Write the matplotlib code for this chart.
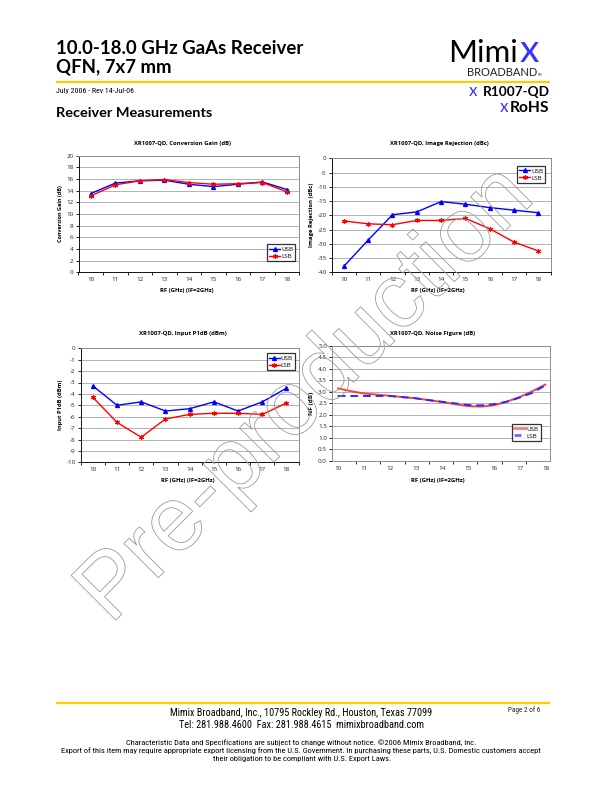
import numpy as np
import matplotlib
matplotlib.use("Agg")
import matplotlib.pyplot as plt
from matplotlib import font_manager, patheffects
from matplotlib.lines import Line2D

plt.rcParams["axes.unicode_minus"] = False

# ---------------- data ----------------
rf_ghz = [10, 11, 12, 13, 14, 15, 16, 17, 18]
gain_usb = [13.5, 15.3, 15.7, 15.8, 15.1, 14.7, 15.1, 15.5, 14.2]
gain_lsb = [13.1, 15.0, 15.7, 15.9, 15.4, 15.1, 15.2, 15.4, 13.8]
rej_usb = [-37.9, -28.7, -19.8, -18.8, -15.2, -16.1, -17.3, -18.2, -19.1]
rej_lsb = [-22.0, -23.0, -23.3, -21.8, -21.8, -21.1, -24.7, -29.4, -32.5]
p1db_usb = [-3.3, -5.0, -4.7, -5.5, -5.3, -4.7, -5.5, -4.7, -3.5]
p1db_lsb = [-4.3, -6.5, -7.8, -6.2, -5.8, -5.7, -5.7, -5.8, -4.8]
nf_freq = [10.0, 10.5, 11.0, 11.5, 12.0, 12.5, 13.0, 13.5, 14.0,
           14.5, 15.0, 15.5, 16.0, 16.5, 17.0, 17.5, 18.0]
nf_usb = [3.15, 3.03, 2.93, 2.88, 2.83, 2.77, 2.72, 2.64, 2.56,
          2.47, 2.38, 2.36, 2.41, 2.57, 2.77, 3.03, 3.32]
nf_lsb = [2.82, 2.82, 2.82, 2.82, 2.82, 2.77, 2.72, 2.64, 2.57,
          2.50, 2.43, 2.41, 2.46, 2.57, 2.75, 2.96, 3.29]
series_names = ["USB", "LSB"]

# ---------------- fonts ----------------
names = {f.name for f in font_manager.fontManager.ttflist}
def pick(*cands):
    for c in cands:
        if c in names:
            return c
    return "DejaVu Sans"
HEAD = pick("Lato", "Open Sans", "Liberation Sans")
BODY = pick("Open Sans", "Liberation Sans")
COND = pick("Liberation Sans Narrow", "Roboto Condensed", "Open Sans Condensed", "Open Sans")
WM = pick("Liberation Sans", "DejaVu Sans")

W, H = 612.0, 792.0
fig = plt.figure(figsize=(W / 100, H / 100), dpi=100)
fig.patch.set_facecolor("white")
renderer = fig.canvas.get_renderer()


def ftext(x, y, s, width=None, size=6.0, ha="left", va="baseline", vertical=False, **kw):
    t = fig.text(x / W, 1 - y / H, s, ha=ha, va=va, fontsize=size, **kw)
    if width:
        bb = t.get_window_extent(renderer=renderer)
        cur = bb.height if vertical else bb.width
        t.set_fontsize(size * width / cur)
    return t


def hline(x0, x1, y, color="#FFCC00", lw=1.6):
    fig.add_artist(Line2D([x0 / W, x1 / W], [1 - y / H, 1 - y / H], color=color,
                          lw=lw, transform=fig.transFigure, solid_capstyle="butt"))


# ---------------- header ----------------
t1 = ftext(56, 54, "10.0-18.0 GHz GaAs Receiver", width=246, size=12,
           family=HEAD, fontweight="bold", color="black")
ftext(56, 72.3, "QFN, 7x7 mm", size=t1.get_fontsize(), family=HEAD,
      fontweight="bold", color="black")
ftext(56, 93.5, "July 2006 - Rev 14-Jul-06", width=79, size=5, family=COND, color="black")
ftext(56, 117.3, "Receiver Measurements", width=155.7, size=9, family=HEAD,
      fontweight="bold", color="black")
hline(56, 550, 81.7)

# logo
ftext(448.3, 61.7, "Mimi", width=70, size=20, family=HEAD, fontweight="normal", color="black")
ftext(520, 61.7, "x", width=19.5, size=20, family=HEAD, fontweight="normal", color="#3434ff")
ftext(466.7, 75.7, "BROADBAND", width=71, size=7, family=HEAD, fontweight="normal", color="#222222")
ftext(538.2, 75.7, "TM", width=4.5, size=3, family=HEAD, color="#222222")
ftext(469, 95.7, "x", width=8.5, size=8, family=HEAD, fontweight="normal", color="#3434ff")
ftext(482.7, 95.7, "R1007-QD", width=66.6, size=8, family=HEAD, fontweight="bold", color="black")
ftext(500, 111.7, "x", width=8.5, size=8, family=HEAD, fontweight="normal", color="#3434ff")
ftext(509.3, 111.7, "RoHS", width=39.7, size=8, family=HEAD, fontweight="bold", color="black")

# ---------------- charts ----------------
BLUE = "#0000ff"
RED = "#ff0000"
STAR = (6, 2, 0)


def make_ax(l, r, t, b):
    return fig.add_axes([l / W, 1 - b / H, (r - l) / W, (b - t) / H])


def style(ax, ylim, yticks, fmt=None):
    ax.set_ylim(*ylim)
    ax.set_yticks(yticks)
    if fmt:
        ax.set_yticklabels([fmt % v for v in yticks])
    ax.grid(axis="y", which="major", color="#a6a6a6", lw=0.6)
    ax.grid(axis="x", visible=False)
    ax.set_axisbelow(True)
    for s in ["top", "right"]:
        ax.spines[s].set_color("#8c8c8c")
        ax.spines[s].set_linewidth(0.7)
    for s in ["left", "bottom"]:
        ax.spines[s].set_color("#111111")
        ax.spines[s].set_linewidth(0.7)
    ax.tick_params(axis="y", length=2.2, width=0.6, pad=1.4, labelsize=4.5,
                   labelcolor="#222222", direction="out")
    ax.tick_params(axis="x", which="major", length=0, pad=3.6, labelsize=4.5,
                   labelcolor="#222222")
    ax.tick_params(axis="x", which="minor", length=2.2, width=0.6, direction="out")
    for lab in ax.get_xticklabels() + ax.get_yticklabels():
        lab.set_family(BODY)


def cat_x(ax):
    ax.set_xlim(9.5, 18.5)
    ax.set_xticks(rf_ghz)
    ax.set_xticks(np.arange(9.5, 18.6, 1.0), minor=True)


def legend(ax, x, y, handles):
    leg = ax.legend(handles=handles, labels=series_names, loc="upper left",
                    bbox_to_anchor=(x / W, 1 - y / H), bbox_transform=fig.transFigure,
                    fontsize=4.5, frameon=True, fancybox=False, borderpad=0.35,
                    handlelength=1.7, handletextpad=0.2, labelspacing=0.25,
                    borderaxespad=0, prop={"family": BODY, "size": 4.5})
    leg.get_frame().set_edgecolor("black")
    leg.get_frame().set_linewidth(0.9)
    leg.set_zorder(5)
    return leg


def mk_handles():
    return [Line2D([], [], color=BLUE, lw=1.0, marker="^", ms=2.8),
            Line2D([], [], color=RED, lw=1.0, marker=STAR, ms=3.5, mew=0.8)]


def plot_pair(ax, usb, lsb):
    ax.plot(rf_ghz, usb, color=BLUE, lw=1.0, marker="^", ms=2.8, zorder=3)
    ax.plot(rf_ghz, lsb, color=RED, lw=1.0, marker=STAR, ms=3.5, mew=0.8, zorder=3)


def labels(cx, title_y, title, tw, xl_y, xw, yl_x, yl_y, ylab, yw):
    ftext(cx, title_y, title, width=tw, size=5, ha="center", va="center",
          family=BODY, fontweight="bold", color="black")
    ftext(xw[0], xl_y, "RF (GHz) (IF=2GHz)", width=xw[1], size=5, ha="center",
          va="center", family=BODY, fontweight="bold", color="black")
    ftext(yl_x, yl_y, ylab, width=yw, size=5, ha="center", va="center",
          rotation=90, vertical=True, family=BODY, fontweight="bold", color="black")


# Chart 1: Conversion gain
ax1 = make_ax(78.5, 299.2, 155.7, 272.3)
cat_x(ax1)
plot_pair(ax1, gain_usb, gain_lsb)
style(ax1, (0, 20), np.arange(0, 21, 2))
legend(ax1, 267, 244.3, mk_handles())
labels(182.7, 143.3, "XR1007-QD, Conversion Gain (dB)", 96.7,
       290.3, (186.7, 54.7), 60.7, 214.0, "Conversion Gain (dB)", 58.3)

# Chart 2: Image rejection
ax2 = make_ax(331.7, 550.5, 158.3, 272.3)
cat_x(ax2)
plot_pair(ax2, rej_usb, rej_lsb)
style(ax2, (-40, 0), np.arange(-40, 1, 5))
legend(ax2, 517, 166, mk_handles())
labels(439.3, 143.3, "XR1007-QD, Image Rejection (dBc)", 100,
       290.7, (438.3, 54.7), 311.7, 215.3, "Image Rejection (dBc)", 65)

# Chart 3: Input P1dB
ax3 = make_ax(80.7, 298.6, 348.3, 462.3)
cat_x(ax3)
plot_pair(ax3, p1db_usb, p1db_lsb)
style(ax3, (-10, 0), np.arange(-10, 1, 1))
legend(ax3, 266.7, 353.3, mk_handles())
labels(183.2, 333.3, "XR1007-QD, Input P1dB (dBm)", 88.3,
       480.7, (187.5, 55), 60.7, 405.3, "Input P1dB (dBm)", 50)

# Chart 4: Noise figure
ax4 = make_ax(332, 550, 345.7, 461)
x0, x1 = 9.78, 18.17
ax4.set_xlim(x0, x1)
ax4.set_xticks(rf_ghz)
ax4.set_xticks(np.linspace(x0, x1, 10)[1:-1], minor=True)
ax4.plot(nf_freq, nf_usb, color="#ff2a2a", lw=1.4, alpha=0.9, zorder=3,
         solid_capstyle="round")
ax4.plot(nf_freq, nf_lsb, color="#2a2aff", lw=1.4, ls=(0, (4, 2.5)), zorder=4)
style(ax4, (0, 5), np.arange(0, 5.01, 0.5), fmt="%.1f")
ax4.spines["left"].set_color("#8c8c8c")
ax4.spines["bottom"].set_color("#8c8c8c")
legend(ax4, 512.3, 424,
       [Line2D([], [], color="#ff7a7a", lw=2.0),
        Line2D([], [], color="#6a6aff", lw=2.0, ls=(0, (2.5, 1.5)))])
labels(432.8, 333.3, "XR1007-QD, Noise Figure (dB)", 85.7,
       480.7, (438.3, 54), 311.7, 403.3, "NF (dB)", 23)

# ---------------- footer ----------------
hline(55.8, 550.4, 702.6)
ftext(301, 712.6, "Mimix Broadband, Inc., 10795 Rockley Rd., Houston, Texas 77099",
      width=263, size=7, ha="center", va="center", family=COND, color="black")
ftext(301.4, 724.7, "Tel: 281.988.4600  Fax: 281.988.4615  mimixbroadband.com",
      width=245, size=7, ha="center", va="center", family=COND, color="black")
ftext(524, 710.6, "Page 2 of 6", width=32.4, size=4.5, ha="center", va="center",
      family=COND, color="#222222")
ftext(301.6, 742.7, "Characteristic Data and Specifications are subject to change "
      "without notice. \u00a92006 Mimix Broadband, Inc.",
      width=351.6, size=5.5, ha="center", va="center", family=COND, color="black")
ftext(301.2, 750.9, "Export of this item may require appropriate export licensing from "
      "the U.S. Government. In purchasing these parts, U.S. Domestic customers accept",
      width=483.6, size=5.5, ha="center", va="center", family=COND, color="black")
ftext(301.7, 758.7, "their obligation to be compliant with U.S. Export Laws.",
      width=179.3, size=5.5, ha="center", va="center", family=COND, color="black")

# ---------------- watermark ----------------
wm = fig.text(110.5 / W, 1 - 625.5 / H, "Pre-production", ha="left", va="baseline",
              fontsize=60, family=WM, color="none", rotation=0,
              rotation_mode="anchor", zorder=20,
              path_effects=[patheffects.Stroke(linewidth=0.6, foreground="#9a9a9a")])
bbw = wm.get_window_extent(renderer=renderer).width
wm.set_fontsize(60 * 603 / bbw)
wm.set_rotation(45)

fig.savefig("out.png", dpi=100, facecolor="white")
